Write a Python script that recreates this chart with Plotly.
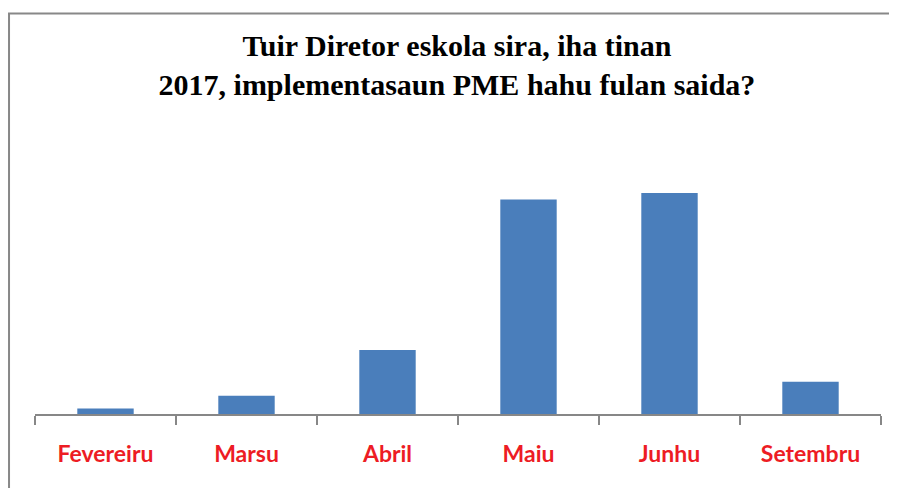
import plotly.graph_objects as go

# months and share of directors (%)
months = ['Fevereiru', 'Marsu', 'Abril', 'Maiu', 'Junhu', 'Setembru']
percent = [1.0, 3.3, 11.5, 38.6, 39.8, 5.8]

title_lines = ["Tuir Diretor eskola sira, iha tinan",
               "2017, implementasaun PME hahu fulan saida?"]

fig = go.Figure()

fig.add_trace(go.Bar(
    x=months,
    y=percent,
    marker=dict(color='#4a7ebb', line=dict(width=0)),
    hoverinfo='x+y'
))

# page body has an 8px margin, so the figure is 8px smaller each way
fig.update_layout(
    width=889,
    height=480,
    margin=dict(l=27, r=16, t=156, b=74),
    plot_bgcolor='white',
    paper_bgcolor='white',
    showlegend=False,
    bargap=0.6,
    title=dict(
        text="<br>".join(title_lines),
        font=dict(family="Liberation Serif", size=30, color='black', weight='bold'),
        x=0.505, xanchor='center',
        y=0.90, yanchor='top',
        yref='container'
    ),
    xaxis=dict(
        showline=True,
        linecolor='#878787',
        linewidth=2,
        ticks='outside',
        tickson='boundaries',
        ticklen=9,
        tickwidth=2,
        tickcolor='#878787',
        ticklabelstandoff=18,
        tickfont=dict(family="Lato", size=23, color='#ed1c24', weight='bold'),
        showgrid=False,
        zeroline=False
    ),
    yaxis=dict(
        range=[0, 45],
        visible=False,
        showgrid=False,
        zeroline=False
    )
)

# outer chart-area border (only left and top edges fall inside the picture)
fig.add_shape(
    type='rect', xref='paper', yref='paper',
    x0=-0.0307, x1=1.2, y0=-0.6, y1=1.602,
    line=dict(color='#888888', width=2),
    fillcolor='rgba(0,0,0,0)', layer='above'
)

fig.write_html("out.html")
